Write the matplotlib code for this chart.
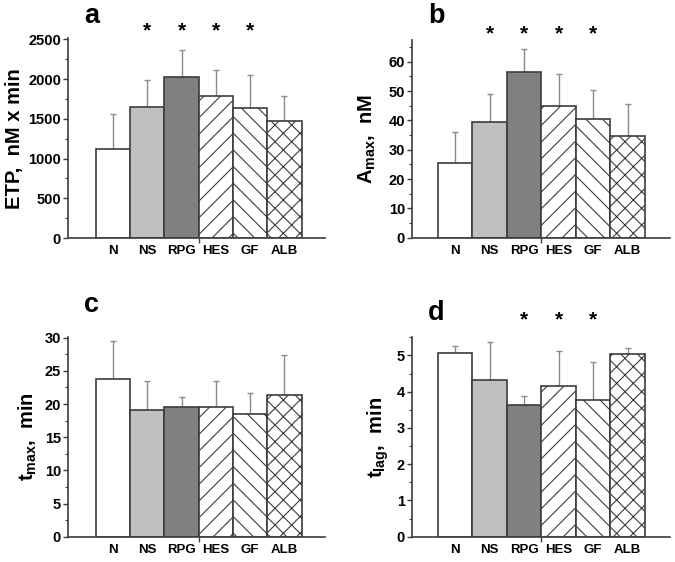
import numpy as np
import matplotlib
matplotlib.use("Agg")
import matplotlib.pyplot as plt
from matplotlib.ticker import MultipleLocator

plt.rcParams['font.family'] = ['Liberation Sans', 'DejaVu Sans']
plt.rcParams['font.weight'] = 'bold'
plt.rcParams['mathtext.fontset'] = 'custom'
plt.rcParams['mathtext.rm'] = 'Liberation Sans:bold'
plt.rcParams['mathtext.it'] = 'Liberation Sans:bold'
plt.rcParams['mathtext.bf'] = 'Liberation Sans:bold'
plt.rcParams['mathtext.default'] = 'rm'
plt.rcParams['hatch.linewidth'] = 0.8
plt.rcParams['hatch.color'] = '#8c8c8c'

# groups
groups = ['N', 'NS', 'RPG', 'HES', 'GF', 'ALB']

# panel a: ETP
etp_mean = [1124, 1653, 2022, 1787, 1632, 1468]
etp_sd = [432, 331, 348, 323, 415, 323]
# panel b: Amax
amax_mean = [25.6, 39.3, 56.5, 45.0, 40.6, 34.7]
amax_sd = [10.5, 9.8, 7.9, 10.9, 9.9, 10.8]
# panel c: tmax
tmax_mean = [23.8, 19.1, 19.6, 19.5, 18.55, 21.3]
tmax_sd = [5.7, 4.3, 1.4, 3.9, 3.05, 6.1]
# panel d: tlag
tlag_mean = [5.07, 4.31, 3.62, 4.15, 3.78, 5.03]
tlag_sd = [0.20, 1.07, 0.27, 0.97, 1.04, 0.17]

# which groups got a star
stars_a = ['NS', 'RPG', 'HES', 'GF']
stars_b = ['NS', 'RPG', 'HES', 'GF']
stars_c = []
stars_d = ['RPG', 'HES', 'GF']

fills = ['white', '#c0c0c0', '#808080', 'white', 'white', 'white']
hatches = [None, None, None, '//', '\\\\', 'xx']
edge = '#3c3c3c'

fig = plt.figure(figsize=(6.75, 5.62), dpi=100)


def panel(rect, mean, sd, stars, letter, ylabel, ylim, xlim, major, minor,
          label_x, letter_y, star_y):
    ax = fig.add_axes(rect)
    x = np.arange(1, len(groups) + 1)
    bars = ax.bar(x, mean, width=1.0, color=fills, edgecolor=edge,
                  linewidth=1.2, zorder=2)
    for b, h in zip(bars, hatches):
        if h:
            b.set_hatch(h)
    ax.errorbar(x, mean, yerr=[np.zeros(len(sd)), sd], fmt='none',
                ecolor='#8a8a8a', elinewidth=1.0, capsize=2, capthick=1.0,
                zorder=1)
    ax.set_xlim(*xlim)
    ax.set_ylim(*ylim)
    for s in ['top', 'right']:
        ax.spines[s].set_visible(False)
    for s in ['left', 'bottom']:
        ax.spines[s].set_color(edge)
        ax.spines[s].set_linewidth(1.2)
    ax.yaxis.set_major_locator(MultipleLocator(major))
    ax.yaxis.set_minor_locator(MultipleLocator(minor))
    ax.tick_params(axis='y', which='major', length=3.5, width=1.0,
                   color=edge, labelsize=10.5, pad=1.5)
    ax.tick_params(axis='y', which='minor', length=2, width=0.8, color=edge)
    ax.set_xticks([3.5])
    ax.set_xticklabels([''])
    ax.set_xticks(x, minor=True)
    ax.set_xticklabels(groups, minor=True)
    ax.tick_params(axis='x', which='major', length=3.5, width=1.0, color=edge)
    ax.tick_params(axis='x', which='minor', length=0, labelsize=9.5, pad=5)
    ax.set_ylabel(ylabel, fontsize=14.5, fontweight='bold')
    ax.yaxis.set_label_coords(label_x, 0.5)
    ax.text(xlim[0] + 0.7, letter_y, letter, fontsize=19.5, fontweight='bold',
            ha='center', va='baseline', transform=ax.get_xaxis_transform())
    for g in stars:
        ax.text(groups.index(g) + 1, star_y, '*', fontsize=15,
                fontweight='bold', ha='center', va='baseline',
                transform=ax.get_xaxis_transform())
    return ax


panel([0.1007, 0.5765, 0.3807, 0.3553], etp_mean, etp_sd, stars_a, 'a',
      'ETP,  nM x min', (0, 2512), (-0.31, 7.18), 500, 250,
      -0.173, 1.078, 1.012)
panel([0.6104, 0.5770, 0.3822, 0.3518], amax_mean, amax_sd, stars_b, 'b',
      r'A$_{max}$,  nM', (0, 67.4), (-0.25, 7.23), 10, 5,
      -0.132, 1.0875, 1.005)
panel([0.1007, 0.0450, 0.3807, 0.3553], tmax_mean, tmax_sd, stars_c, 'c',
      r't$_{max}$,  min', (0, 30.1), (-0.31, 7.18), 5, 2.5,
      -0.112, 1.125, 1.06)
panel([0.6104, 0.0450, 0.3822, 0.3548], tlag_mean, tlag_sd, stars_d, 'd',
      r't$_{lag}$,  min', (0, 5.5), (-0.25, 7.23), 1, 0.5,
      -0.081, 1.087, 1.062)

fig.savefig('out.png', dpi=100)
